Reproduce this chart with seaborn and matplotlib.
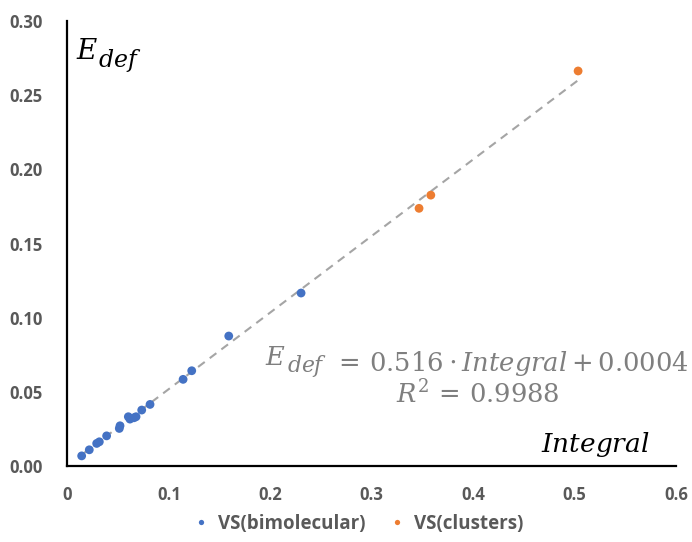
import numpy as np
import pandas as pd
import seaborn as sns
import matplotlib.pyplot as plt

# values
bimol_x = [0.0140, 0.0215, 0.0288, 0.0314, 0.0386, 0.0511, 0.0518, 0.0600,
           0.0616, 0.0656, 0.0676, 0.0732, 0.0814, 0.1140, 0.1225, 0.1590, 0.2303]
bimol_y = [0.0069, 0.0110, 0.0153, 0.0164, 0.0204, 0.0254, 0.0272, 0.0333,
           0.0317, 0.0326, 0.0333, 0.0378, 0.0416, 0.0585, 0.0643, 0.0877, 0.1167]
cluster_x = [0.3466, 0.3582, 0.5034]
cluster_y = [0.1738, 0.1827, 0.2664]

series_names = ["VS(bimolecular)", "VS(clusters)"]
slope = 0.516
intercept = 0.0004
r2 = 0.9988

x_ticks = [0, 0.1, 0.2, 0.3, 0.4, 0.5, 0.6]
x_tick_labels = ["0", "0.1", "0.2", "0.3", "0.4", "0.5", "0.6"]
y_ticks = [0.00, 0.05, 0.10, 0.15, 0.20, 0.25, 0.30]
y_tick_labels = ["0.00", "0.05", "0.10", "0.15", "0.20", "0.25", "0.30"]

df = pd.DataFrame({
    "Integral": bimol_x + cluster_x,
    "Edef": bimol_y + cluster_y,
    "series": [series_names[0]] * len(bimol_x) + [series_names[1]] * len(cluster_x),
})

sns.set_style("white")
plt.rcParams["font.family"] = ["Open Sans", "DejaVu Sans"]
plt.rcParams["mathtext.fontset"] = "dejavuserif"

fig = plt.figure(figsize=(6.92, 5.42), dpi=100)
ax = fig.add_axes([0.0975, 0.140, 0.8795, 0.821])

palette = {series_names[0]: "#4472C4", series_names[1]: "#ED7D31"}

# trend line across the data range
all_x = np.array(df["Integral"])
xs = np.array([all_x.min(), all_x.max()])
ax.plot(xs, slope * xs + intercept, ls=(0, (4, 3)), color="#A5A5A5", lw=1.5, zorder=1)

sns.scatterplot(data=df, x="Integral", y="Edef", hue="series", palette=palette,
                s=40, edgecolor="none", ax=ax, zorder=3)

ax.set_xlim(0, 0.6)
ax.set_ylim(0, 0.30)
ax.set_xticks(x_ticks)
ax.set_xticklabels(x_tick_labels)
ax.set_yticks(y_ticks)
ax.set_yticklabels(y_tick_labels)
ax.tick_params(axis="both", length=0, labelsize=12, labelcolor="#595959")
ax.tick_params(axis="x", pad=14)
ax.tick_params(axis="y", pad=18)
for lab in ax.get_xticklabels() + ax.get_yticklabels():
    lab.set_fontweight("bold")
ax.set_xlabel("")
ax.set_ylabel("")

sns.despine(ax=ax)
for side in ["left", "bottom"]:
    ax.spines[side].set_color("black")
    ax.spines[side].set_linewidth(1.6)


def e_def(x, y, size, color):
    # E with a large Cambria-like subscript
    e = ax.text(x, y, r"$E$", fontsize=size, color=color, ha="left", va="baseline")
    sub = ax.annotate(r"$def$", xy=(1, 0), xycoords=e, xytext=(0.5, -0.5),
                      textcoords="offset points", fontsize=size * 0.85, color=color,
                      ha="left", va="baseline")
    return e, sub


e_def(0.008, 0.2745, 20, "black")
ax.text(0.467, 0.0094, r"$Integral$", fontsize=19, color="black", ha="left", va="baseline")

gray = "#7F7F7F"
e1, s1 = e_def(0.195, 0.0681, 18.5, gray)
ax.annotate(r"$=\, %.3f \cdot Integral + %.4f$" % (slope, intercept), xy=(1, 0),
            xycoords=(s1, e1), xytext=(5, 0), textcoords="offset points",
            fontsize=18.5, color=gray, ha="left", va="baseline")
ax.text(0.324, 0.0425, r"$R^2\,=\,%.4f$" % r2, fontsize=18.5, color=gray,
        ha="left", va="baseline")

handles, labels = ax.get_legend_handles_labels()
ax.legend_.remove()
leg = fig.legend(handles, labels, loc="center", bbox_to_anchor=(0.517, 0.034), ncol=2,
                 frameon=False, markerscale=0.6, handlelength=1.0, handletextpad=0.4,
                 columnspacing=1.2, prop={"weight": "bold", "size": 13.5})
for t in leg.get_texts():
    t.set_color("#595959")

fig.savefig("out.png", dpi=100)
